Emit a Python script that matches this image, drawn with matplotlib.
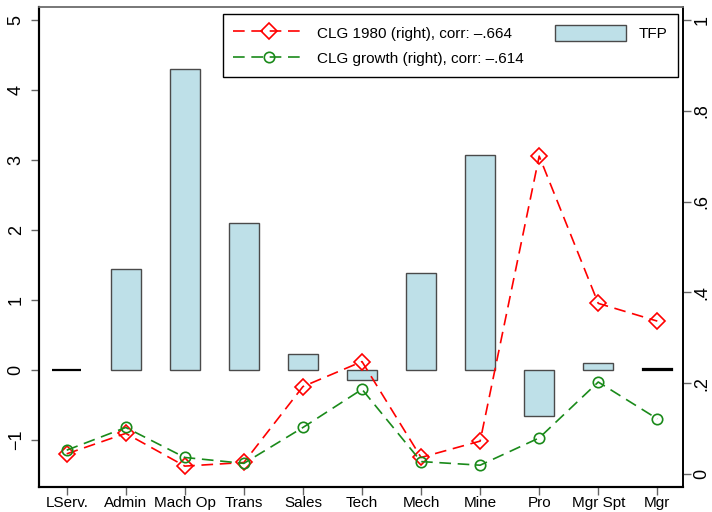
import numpy as np
import matplotlib
matplotlib.use('Agg')
import matplotlib.pyplot as plt

#%% DATA
# ----------------------
occupations = ['LServ.', 'Admin', 'Mach Op', 'Trans', 'Sales', 'Tech',
               'Mech', 'Mine', 'Pro', 'Mgr Spt', 'Mgr']
tfp = [0.0, 1.45, 4.30, 2.11, 0.23, -0.14, 1.39, 3.07, -0.65, 0.10, 0.01]
clg_1980 = [0.045, 0.090, 0.018, 0.026, 0.193, 0.248, 0.037, 0.073, 0.700, 0.376, 0.337]
clg_growth = [0.053, 0.103, 0.037, 0.024, 0.103, 0.187, 0.028, 0.020, 0.080, 0.203, 0.122]
left_ticks = [-1, 0, 1, 2, 3, 4, 5]
right_ticks = [0, 0.2, 0.4, 0.6, 0.8, 1.0]
right_labels = ['0', '.2', '.4', '.6', '.8', '1']
# ----------------------

plt.rcParams['font.family'] = ['Liberation Sans', 'DejaVu Sans']
plt.rcParams['font.size'] = 11

fig = plt.figure(figsize=(7.12, 5.12), dpi=100)
ax = fig.add_axes([0.0552, 0.0488, 0.9045, 0.9375])
ax2 = ax.twinx()

x = np.arange(1, len(occupations) + 1)

#%% BARS (left axis)
bars = ax.bar(x, tfp, width=0.5, color='#bee0e8', edgecolor='#4a4a4a',
              linewidth=1.0, label='TFP', zorder=2)
ax.set_ylim(-1.67, 5.19)
ax.set_xlim(0.536, 11.44)
ax.set_yticks(left_ticks)
ax.set_yticklabels(['\u22121' if v < 0 else str(v) for v in left_ticks],
                   rotation=90, va='center', fontsize=13)
ax.set_xticks(x)
ax.set_xticklabels(occupations, fontsize=11)

#%% LINES (right axis)
l1, = ax2.plot(x, clg_1980, color='red', lw=1.2, dashes=(7, 4),
               marker='D', ms=8.5, mfc='none', mec='red', mew=1.2,
               label='CLG 1980 (right), corr: \u2013.664')
l2, = ax2.plot(x, clg_growth, color='#1a8a1a', lw=1.2, dashes=(7, 4),
               marker='o', ms=7.5, mfc='none', mec='#1a8a1a', mew=1.2,
               label='CLG growth (right), corr: \u2013.614')
ax2.set_ylim(-0.028, 1.028)
ax2.set_yticks(right_ticks)
ax2.set_yticklabels(right_labels, rotation=90, va='center', fontsize=13)

#%% STYLE
for a in (ax, ax2):
    a.spines['left'].set_color('black')
    a.spines['left'].set_linewidth(1.5)
    a.spines['bottom'].set_color('black')
    a.spines['bottom'].set_linewidth(1.5)
    a.spines['right'].set_color('black')
    a.spines['right'].set_linewidth(1.2)
    a.spines['top'].set_color('#777777')
    a.spines['top'].set_linewidth(1.2)
    a.tick_params(length=5.5, width=1.0, color='#666666')
ax.tick_params(axis='x', pad=1)
ax.tick_params(axis='y', pad=5)
ax2.tick_params(axis='y', pad=2)

leg = ax2.legend(handles=[l1, l2, bars], ncol=2, loc='upper right',
                 bbox_to_anchor=(0.992, 0.985), borderaxespad=0,
                 fancybox=False, framealpha=1, edgecolor='black',
                 handlelength=4.7, handleheight=1.2, columnspacing=2.0,
                 borderpad=0.7, labelspacing=0.6, fontsize=11)
leg.get_frame().set_linewidth(1.0)

# near-zero bars show up as a dark line (after legend so its key stays normal)
for p, v in zip(bars.patches, tfp):
    if abs(v) < 0.05:
        p.set_edgecolor('black')
        p.set_linewidth(1.6)

fig.savefig('out.png', dpi=100)
